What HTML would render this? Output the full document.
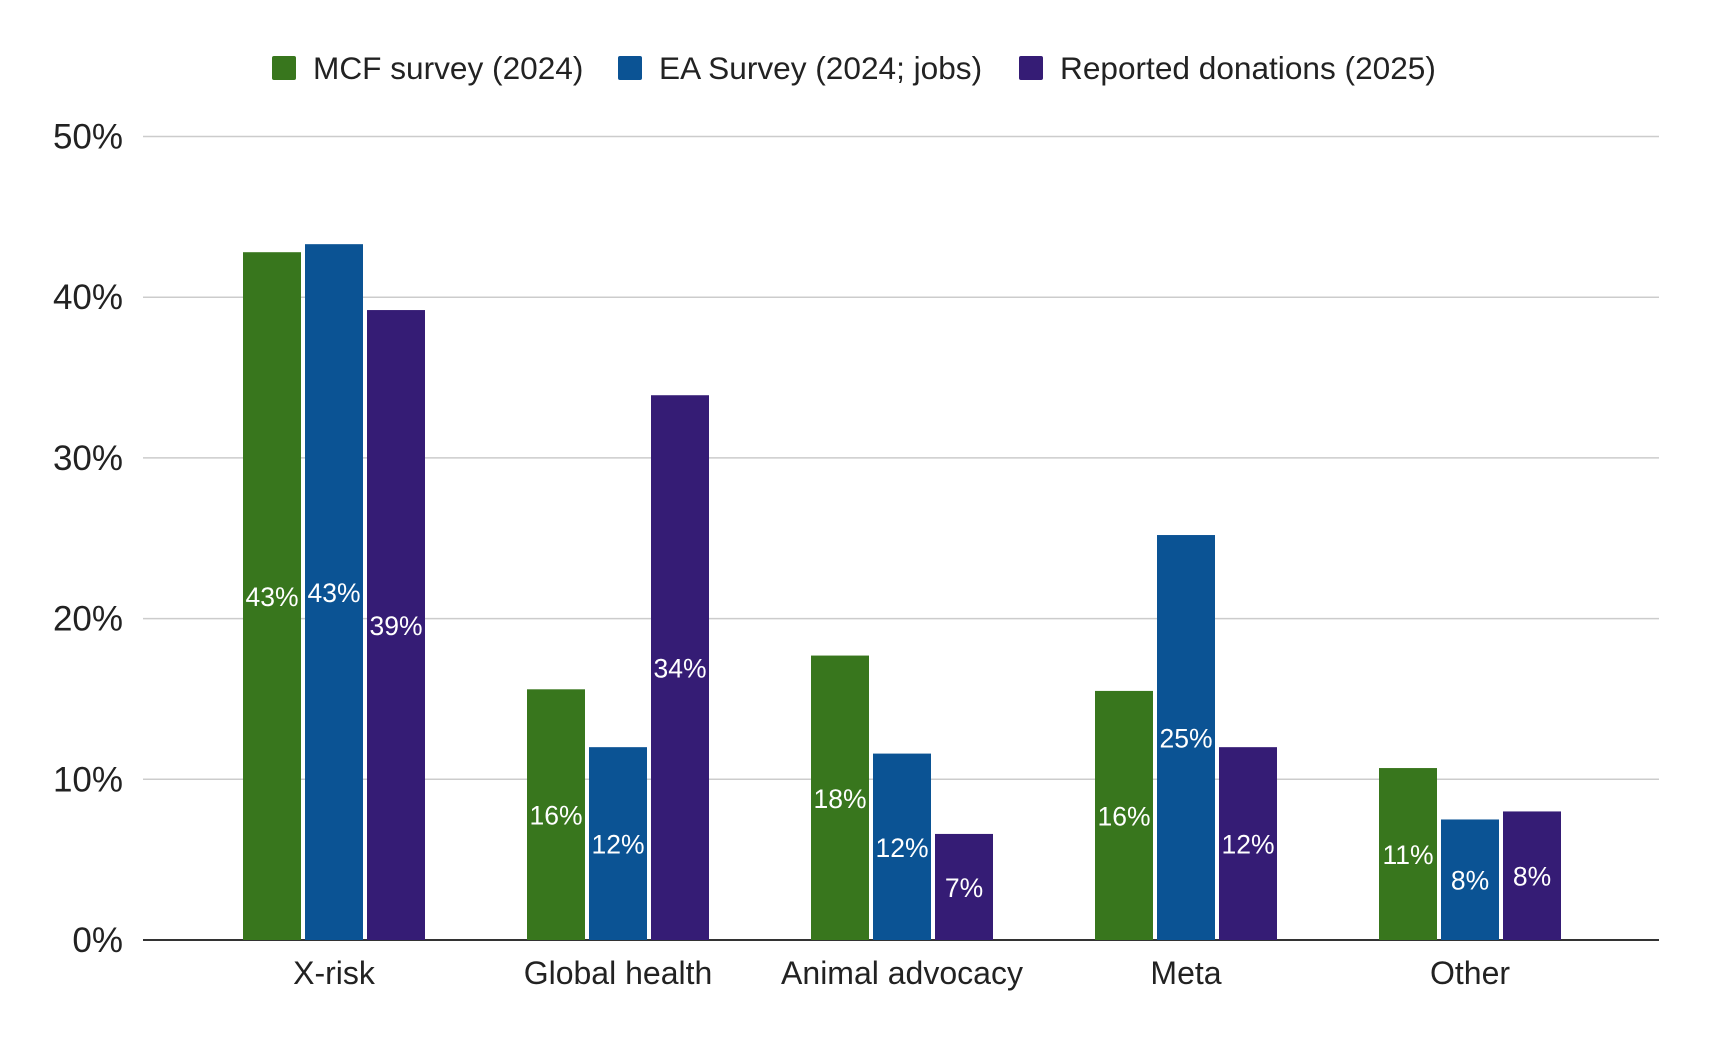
<!DOCTYPE html>
<html><head><meta charset="utf-8"><style>
html,body{margin:0;padding:0;background:#fff;}
svg{display:block;font-family:"Liberation Sans",Arial,sans-serif;}
</style></head><body>
<svg id="chart" width="1712" height="1042" viewBox="0 0 1712 1042">
<g id="legend"></g>
<g id="grid"></g>
<g id="yticks"></g>
<g id="bars"></g>
<g id="xlabels"></g>
</svg>
<script>
const categories = ["X-risk","Global health","Animal advocacy","Meta","Other"];
const seriesNames = ["MCF survey (2024)","EA Survey (2024; jobs)","Reported donations (2025)"];
const mcfValues = [42.8,15.6,17.7,15.5,10.7];
const eaValues = [43.3,12.0,11.6,25.2,7.5];
const donationValues = [39.2,33.9,6.6,12.0,8.0];
const valueLabels = [["43%","16%","18%","16%","11%"],["43%","12%","12%","25%","8%"],["39%","34%","7%","12%","8%"]];
const yTicks = [0,10,20,30,40,50];
const yTickLabels = ["0%","10%","20%","30%","40%","50%"];

const colors = ["#38761d","#0b5394","#351c75"];
const series = [mcfValues,eaValues,donationValues];
const NS="http://www.w3.org/2000/svg";
const left=143,right=1659,y0=940,yTop=136.5,yMax=50;
function y(v){return y0-(v/yMax)*(y0-yTop);}
const groupW=284;
function xc(i){return 334+groupW*i;}
const barW=58,step=62;
function mk(tag,attrs,parent){const e=document.createElementNS(NS,tag);for(const k in attrs)e.setAttribute(k,attrs[k]);parent.appendChild(e);return e;}

const grid=document.getElementById('grid'),yt=document.getElementById('yticks');
yTicks.forEach((t,i)=>{
  const l=mk('line',{x1:left,x2:right,y1:y(t),y2:y(t),stroke:t===0?'#333':'#ccc','stroke-width':t===0?2:1.5},grid);
  
  
  const tx=mk('text',{x:123,y:y(t)+12,'text-anchor':'end','font-size':35,fill:'#222'},yt);
  tx.textContent=yTickLabels[i];
  
  
});
const bars=document.getElementById('bars');
categories.forEach((c,i)=>{
  series.forEach((s,j)=>{
    const x=xc(i)+(j-1)*step-barW/2;
    const r=mk('rect',{x:x,y:y(s[i]),width:barW,height:y0-y(s[i]),fill:colors[j]},bars);
    
    
    const t=mk('text',{x:x+barW/2,y:(y(s[i])+y0)/2+10,'text-anchor':'middle','font-size':26.5,fill:'#fff'},bars);
    t.textContent=valueLabels[j][i];
    
    
  });
  const xl=mk('text',{x:xc(i),y:984,'text-anchor':'middle','font-size':32,fill:'#222'},document.getElementById('xlabels'));
  xl.textContent=c;
  
  
});
const lg=document.getElementById('legend');
const lx=[272,618,1019];
seriesNames.forEach((n,j)=>{
  const g=mk('g',{},lg);
  
  
  mk('rect',{x:lx[j],y:56,width:24,height:24,rx:2,fill:colors[j]},g);
  const t=mk('text',{x:lx[j]+41,y:79,'font-size':31.6,fill:'#222'},g);
  t.textContent=n;
});
</script>
</body></html>
